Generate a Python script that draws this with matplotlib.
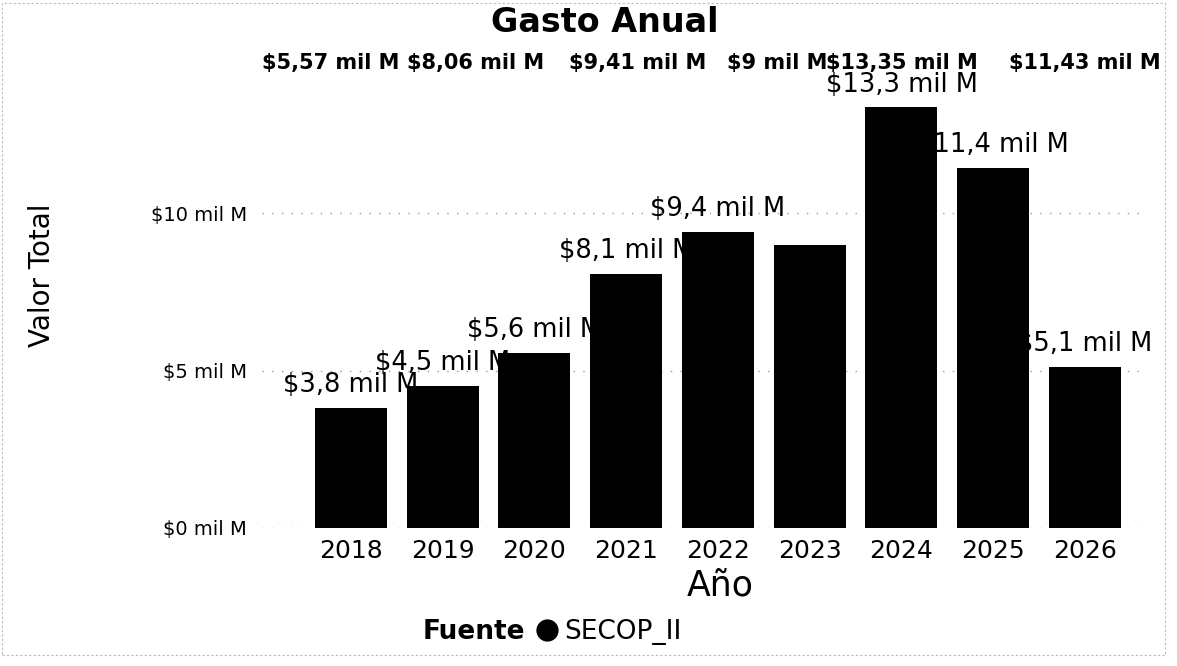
import matplotlib
matplotlib.use("Agg")
import matplotlib.pyplot as plt
from matplotlib.lines import Line2D
from matplotlib.patches import Rectangle
from matplotlib import transforms
from matplotlib import font_manager as fm

# ---- data ----
years = ["2018", "2019", "2020", "2021", "2022", "2023", "2024", "2025", "2026"]
values = [3.8, 4.5, 5.57, 8.06, 9.41, 9.0, 13.35, 11.43, 5.1]   # miles de millones
# the 2023 bar label is not shown in the reference (blank)
bar_labels = ["$3,8 mil M", "$4,5 mil M", "$5,6 mil M", "$8,1 mil M", "$9,4 mil M",
              "", "$13,3 mil M", "$11,4 mil M", "$5,1 mil M"]
top_labels = ["$5,57 mil M", "$8,06 mil M", "$9,41 mil M", "$9 mil M", "$13,35 mil M", "$11,43 mil M"]
yticks = [0, 5, 10]
ytick_labels = ["$0 mil M", "$5 mil M", "$10 mil M"]
series_name = "SECOP_II"

# layout positions for the misplaced top label row (category units)
top_label_x = [-0.22, 1.36, 3.12, 4.65, 6.0, 8.0]

names = {f.name for f in fm.fontManager.ttflist}
narrow = "Liberation Sans Narrow" if "Liberation Sans Narrow" in names else "DejaVu Sans"

plt.rcParams["font.family"] = ["DejaVu Sans"]

W, H = 1177, 666
fig = plt.figure(figsize=(W / 100, H / 100), dpi=100)
ax_l, ax_r, ax_b, ax_t = 262, 1140, 528, 60
ax = fig.add_axes([ax_l / W, 1 - ax_b / H, (ax_r - ax_l) / W, (ax_b - ax_t) / H])

x = list(range(len(years)))
bars = ax.bar(x, values, width=0.785, color="black", zorder=2, label=series_name)

ax.set_xlim(-0.97, 8.6)
ax.set_ylim(0, (ax_b - ax_t) / 31.5)
ax.set_xticks(x)
ax.set_xticklabels(years, fontsize=18)
ax.set_yticks(yticks)
ax.set_yticklabels(ytick_labels, fontsize=14)
ax.tick_params(axis="both", length=0)
ax.tick_params(axis="y", pad=11)
ax.tick_params(axis="x", pad=8)
for s in ax.spines.values():
    s.set_visible(False)
ax.yaxis.grid(True, linestyle=(0, (1, 6)), color="#9a9a9a", linewidth=1.0, zorder=0)

# value labels (drawn beneath the bars)
for xi, v, lab in zip(x, values, bar_labels):
    if lab:
        ax.annotate(lab, (xi, v), xytext=(0, 16.5), textcoords="offset points",
                    ha="center", va="center", fontsize=18.5, color="black",
                    zorder=1, annotation_clip=False)

# top label row
trans = transforms.blended_transform_factory(ax.transData, fig.transFigure)
for xl, lab in zip(top_label_x, top_labels):
    ax.text(xl, 1 - 63 / H, lab, transform=trans, ha="center", va="center",
            fontsize=15, fontweight="bold", color="black", clip_on=False, zorder=5)

# title and axis titles
fig.text(605 / W, 1 - 22 / H, "Gasto Anual", ha="center", va="center",
         fontsize=24, fontweight="bold")
fig.text(720 / W, 1 - 585 / H, "Año", ha="center", va="center", fontsize=25)
fig.text(42 / W, 1 - 275 / H, "Valor Total", ha="center", va="center",
         rotation=90, fontsize=20, family=[narrow, "DejaVu Sans"])

# legend
fig.text(525 / W, 1 - 632 / H, "Fuente", ha="right", va="center",
         fontsize=19, fontweight="bold")
handle = Line2D([], [], marker="o", linestyle="none", markersize=15,
                color=bars.patches[0].get_facecolor())
fig.legend([handle], [series_name], loc="center left",
           bbox_to_anchor=(530 / W, 1 - 632 / H), frameon=False, fontsize=19,
           handletextpad=0.0, borderpad=0, borderaxespad=0, handlelength=1.3)

# faint scan border
fig.patches.append(Rectangle((2 / W, 1 - 655 / H), 1163 / W, 652 / H,
                             transform=fig.transFigure, fill=False,
                             edgecolor="#bbbbbb", linewidth=0.8, linestyle=(0, (2, 2))))

fig.savefig("out.png", dpi=100)
